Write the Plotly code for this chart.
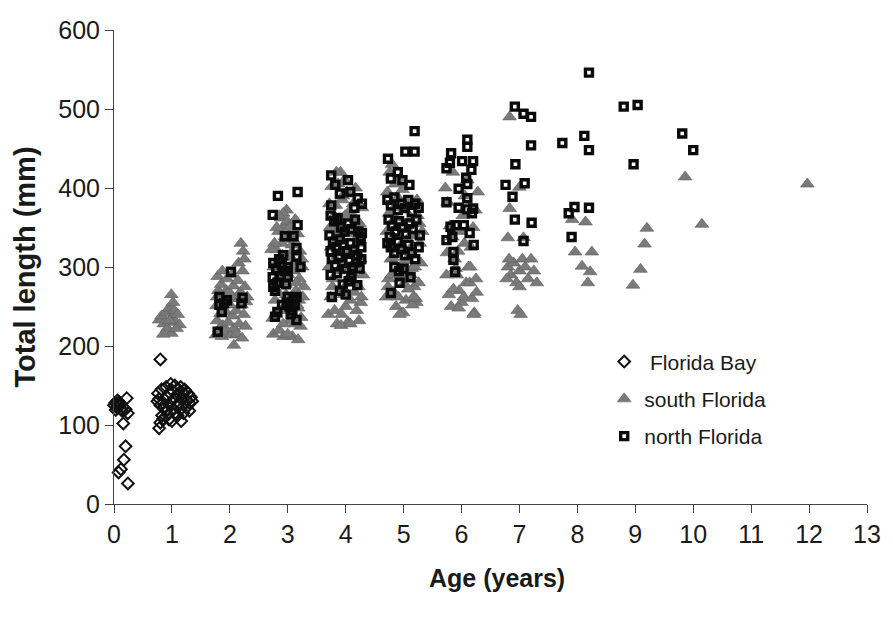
import plotly.graph_objects as go

# ---------------- data (age in years, total length in mm) ----------------
ages = list(range(0, 14))

# Florida Bay (diamonds)
bay_a0_x = [0.02, 0.05, 0.08, 0.03, 0.10, 0.06, 0.12, 0.00, 0.09, 0.22,
            0.07, 0.24, 0.20, 0.16, 0.20, 0.17, 0.12, 0.08, 0.24, 0.14]
bay_a0_y = [128, 122, 126, 119, 124, 131, 120, 125, 129, 134,
            127, 115, 120, 102, 73, 56, 44, 40, 26, 118]
bay_a1_x = [0.80, 0.78, 0.80, 0.85, 0.83, 0.90, 0.95, 1.00, 1.16, 1.10,
            1.20, 1.25, 1.30, 1.33, 1.28, 1.22, 1.15, 1.05, 0.98, 0.90,
            0.82, 0.76, 0.78, 0.85, 0.92, 0.97, 1.02, 1.08, 1.12, 1.18,
            1.25, 0.88, 0.95, 1.03, 1.08, 1.15, 0.80, 1.00, 1.10, 1.20,
            0.93, 1.05, 1.30, 1.35, 0.75]
bay_a1_y = [183, 96, 103, 108, 112, 118, 107, 105, 105, 112,
            115, 122, 128, 135, 140, 145, 148, 150, 152, 148,
            145, 140, 133, 128, 135, 140, 132, 138, 128, 135,
            132, 122, 126, 120, 124, 120, 125, 144, 145, 140,
            113, 115, 118, 130, 130]

# south Florida (triangles)
sf_a1_x = [0.78, 0.82, 0.86, 0.90, 0.95, 0.99, 1.00, 1.04, 1.06, 1.10,
           1.13, 0.99, 0.92, 0.85, 1.08, 0.96, 1.02]
sf_a1_y = [233, 238, 228, 242, 248, 265, 236, 245, 230, 240,
           227, 216, 222, 215, 222, 232, 255]
sf_a2_x = [1.76, 1.78, 1.77, 1.80, 1.79, 1.82, 1.78, 1.84, 1.86, 1.85,
           1.88, 1.87, 1.90, 1.92, 1.93, 1.95, 1.94, 1.97, 2.00, 2.02,
           1.99, 2.03, 2.05, 2.07, 2.06, 2.10, 2.12, 2.11, 2.14, 2.16,
           2.15, 2.18, 2.20, 2.19, 2.22, 2.24, 2.23, 2.26, 2.28, 2.27,
           2.30, 2.25, 2.21, 2.17, 2.07, 1.83]
sf_a2_y = [214, 232, 251, 270, 288, 222, 262, 241, 212, 278,
           226, 295, 259, 218, 243, 285, 270, 230, 252, 214,
           268, 290, 238, 222, 276, 260, 215, 245, 283, 228,
           305, 268, 252, 330, 295, 240, 320, 275, 256, 225,
           262, 310, 210, 260, 201, 266]
sf_a3_x = [2.74, 2.78, 2.82, 2.86, 2.90, 2.94, 2.98, 3.02, 3.06, 3.10,
           3.14, 3.18, 3.22, 3.26, 2.76, 2.80, 2.84, 2.88, 2.92, 2.96,
           3.00, 3.04, 3.08, 3.12, 3.16, 3.20, 3.24, 2.75, 2.79, 2.83,
           2.87, 2.91, 2.95, 2.99, 3.03, 3.07, 3.11, 3.15, 3.19, 3.23,
           2.77, 2.81, 2.85, 2.89, 2.93, 2.97, 3.01, 3.05, 3.09, 3.13,
           3.17, 3.21, 3.25, 2.92, 3.00, 3.18, 2.85, 3.28, 2.72, 3.10]
sf_a3_y = [235, 258, 282, 305, 330, 352, 372, 340, 318, 295,
           270, 248, 225, 262, 300, 322, 345, 362, 368, 278,
           255, 232, 212, 228, 252, 285, 310, 215, 240, 268,
           290, 315, 338, 358, 350, 328, 306, 280, 258, 236,
           330, 350, 220, 245, 212, 265, 290, 312, 335, 360,
           342, 320, 300, 228, 215, 208, 365, 275, 322, 250]
sf_a4_x = [3.70, 3.74, 3.78, 3.82, 3.86, 3.90, 3.94, 3.98, 4.02, 4.06,
           4.10, 4.14, 4.18, 4.22, 4.26, 4.30, 3.72, 3.76, 3.80, 3.84,
           3.88, 3.92, 3.96, 4.00, 4.04, 4.08, 4.12, 4.16, 4.20, 4.24,
           4.28, 3.71, 3.75, 3.79, 3.83, 3.87, 3.91, 3.95, 3.99, 4.03,
           4.07, 4.11, 4.15, 4.19, 4.23, 4.27, 3.73, 3.85, 3.97, 4.09,
           4.21, 3.81, 3.93, 4.05, 4.17, 3.77, 3.89, 4.01, 4.13, 4.25,
           3.92, 4.08, 3.99, 3.84, 4.18]
sf_a4_y = [240, 262, 285, 310, 335, 360, 385, 410, 395, 370,
           345, 320, 298, 275, 255, 290, 380, 402, 365, 340,
           318, 295, 272, 250, 230, 258, 280, 305, 330, 355,
           375, 300, 325, 352, 378, 405, 420, 390, 365, 342,
           318, 292, 268, 245, 232, 262, 350, 228, 265, 300,
           338, 245, 240, 285, 400, 275, 298, 322, 380, 310,
           226, 228, 346, 420, 360]
sf_a5_x = [4.70, 4.74, 4.78, 4.82, 4.86, 4.90, 4.94, 4.98, 5.02, 5.06,
           5.10, 5.14, 5.18, 5.22, 5.26, 5.30, 4.72, 4.76, 4.80, 4.84,
           4.88, 4.92, 4.96, 5.00, 5.04, 5.08, 5.12, 5.16, 5.20, 5.24,
           5.28, 4.71, 4.75, 4.79, 4.83, 4.87, 4.91, 4.95, 4.99, 5.03,
           5.07, 5.11, 5.15, 5.19, 5.23, 5.27, 4.73, 4.85, 4.97, 5.09,
           5.21, 4.81, 4.93, 5.05, 5.17, 5.32]
sf_a5_y = [262, 285, 310, 338, 362, 388, 412, 398, 372, 348,
           322, 298, 275, 255, 280, 305, 395, 420, 430, 375,
           350, 325, 300, 278, 258, 272, 290, 315, 340, 365,
           330, 345, 368, 290, 268, 250, 262, 285, 242, 308,
           335, 360, 252, 300, 385, 355, 275, 405, 326, 382,
           260, 312, 240, 288, 262, 345]
sf_a6_x = [5.72, 5.76, 5.80, 5.84, 5.88, 5.92, 5.96, 6.00, 6.04, 6.08,
           6.12, 6.16, 6.20, 6.24, 6.28, 5.74, 5.78, 5.82, 5.86, 5.90,
           5.94, 5.98, 6.02, 6.06, 6.10, 6.14, 6.18, 6.22, 6.26, 5.75,
           5.85, 5.95, 6.05, 6.15, 6.25, 6.21]
sf_a6_y = [400, 382, 352, 338, 310, 290, 270, 255, 262, 280,
           300, 325, 350, 372, 395, 290, 265, 250, 272, 298,
           320, 345, 365, 390, 410, 280, 260, 242, 268, 318,
           420, 248, 330, 300, 285, 240]
sf_old_x = [6.83, 7.00, 6.83, 6.80, 7.07, 6.80, 6.85, 6.90, 6.95, 7.00,
            7.05, 7.10, 7.15, 7.20, 7.25, 7.30, 6.78, 7.00, 6.97, 7.02,
            6.82, 7.91, 8.14, 7.96, 8.25, 8.08, 8.22, 8.18, 9.20, 9.16,
            9.09, 8.96, 9.86, 10.15, 11.97]
sf_old_y = [490, 401, 374, 337, 337, 300, 290, 305, 280, 295,
            310, 300, 285, 310, 295, 280, 285, 275, 245, 240,
            310, 360, 357, 319, 319, 301, 294, 280, 349, 329,
            297, 277, 414, 354, 405]

# north Florida (squares)
nf_a2_x = [2.02, 1.82, 1.90, 1.86, 1.82, 2.22, 2.20, 1.79, 1.95]
nf_a2_y = [294, 262, 254, 243, 252, 261, 254, 218, 258]
nf_a3_x = [2.83, 3.17, 2.74, 3.17, 2.95, 3.10, 3.15, 3.15, 2.75, 2.80,
           2.85, 2.90, 2.95, 3.00, 2.88, 2.82, 2.78, 2.92, 3.00, 2.97,
           2.74, 2.75, 2.98, 3.03, 3.08, 3.12, 3.05, 3.10, 3.15, 3.15,
           2.82, 2.78, 2.90, 3.00, 3.22]
nf_a3_y = [390, 395, 366, 353, 339, 339, 324, 313, 305, 298,
           310, 302, 295, 300, 288, 280, 270, 315, 288, 278,
           287, 275, 255, 250, 245, 252, 240, 258, 262, 233,
           243, 237, 252, 262, 300]
nf_a4_x = [3.75, 4.04, 3.82, 3.90, 3.75, 4.21, 4.08, 4.15, 3.74, 3.80,
           3.86, 3.92, 3.98, 4.04, 4.10, 4.16, 4.22, 4.26, 3.72, 3.78,
           3.84, 3.90, 3.96, 4.02, 4.08, 4.14, 4.20, 4.27, 3.76, 3.82,
           3.88, 3.94, 4.00, 4.06, 4.12, 4.18, 4.24, 3.74, 3.74, 3.85,
           4.05, 4.20, 3.76, 3.95, 4.10, 3.90, 4.00, 4.28, 4.28, 4.27]
nf_a4_y = [416, 410, 404, 393, 378, 387, 395, 375, 365, 358,
           362, 350, 345, 355, 348, 360, 345, 338, 340, 332,
           325, 335, 328, 320, 330, 322, 315, 325, 310, 302,
           312, 305, 298, 308, 300, 306, 298, 320, 290, 292,
           282, 277, 262, 278, 287, 270, 265, 380, 343, 310]
nf_a5_x = [5.19, 5.03, 5.19, 4.73, 4.90, 4.98, 5.10, 4.78, 4.72, 4.78,
           4.84, 4.90, 4.96, 5.02, 5.08, 5.14, 5.20, 5.26, 4.74, 4.80,
           4.86, 4.92, 4.98, 5.04, 5.10, 5.16, 5.22, 5.28, 4.72, 4.78,
           4.84, 4.90, 4.96, 5.02, 5.08, 5.14, 5.20, 5.26, 4.76, 4.84,
           4.92, 5.00, 5.12, 4.93, 4.78]
nf_a5_y = [472, 446, 446, 437, 420, 410, 404, 412, 385, 378,
           388, 372, 380, 375, 385, 370, 380, 375, 360, 352,
           345, 358, 350, 342, 355, 348, 360, 340, 330, 325,
           318, 332, 322, 315, 328, 318, 310, 325, 338, 300,
           295, 298, 287, 280, 267]
nf_a6_x = [6.10, 6.10, 5.82, 5.80, 5.74, 6.01, 6.20, 6.17, 6.08, 5.95,
           6.10, 6.10, 5.74, 6.20, 6.18, 6.10, 5.90, 6.04, 5.81, 6.14,
           5.74, 5.84, 6.21, 5.86, 5.86, 5.89, 5.95]
nf_a6_y = [461, 452, 444, 432, 425, 434, 434, 423, 413, 399,
           405, 387, 382, 374, 368, 373, 353, 353, 351, 343,
           334, 338, 328, 319, 309, 294, 375]
nf_old_x = [6.92, 7.07, 7.20, 7.20, 6.93, 7.09, 6.76, 6.88, 6.92, 7.21,
            7.07, 7.74, 8.12, 8.20, 8.20, 7.95, 7.85, 8.20, 7.90, 8.80,
            9.04, 8.97, 9.81, 10.00]
nf_old_y = [503, 494, 490, 454, 430, 406, 404, 389, 360, 356,
            333, 457, 466, 448, 546, 376, 368, 375, 338, 503,
            505, 430, 469, 448]

# ---------------- assemble series ----------------
bay_x = bay_a0_x + bay_a1_x
bay_y = bay_a0_y + bay_a1_y
sf_x = sf_a1_x + sf_a2_x + sf_a3_x + sf_a4_x + sf_a5_x + sf_a6_x + sf_old_x
sf_y = sf_a1_y + sf_a2_y + sf_a3_y + sf_a4_y + sf_a5_y + sf_a6_y + sf_old_y
nf_x = nf_a2_x + nf_a3_x + nf_a4_x + nf_a5_x + nf_a6_x + nf_old_x
nf_y = nf_a2_y + nf_a3_y + nf_a4_y + nf_a5_y + nf_a6_y + nf_old_y

FONT = "Liberation Sans, Arial, Helvetica, sans-serif"
INK = "#1a1a1a"

fig = go.Figure()
fig.add_trace(go.Scatter(
    x=bay_x, y=bay_y, mode="markers", name="\u00a0Florida Bay",
    legendgroup="a", cliponaxis=False,
    marker=dict(symbol="diamond-open", size=9, color="#111111",
                line=dict(width=2.0, color="#111111"))))
fig.add_trace(go.Scatter(
    x=sf_x, y=sf_y, mode="markers", name="south Florida",
    legendgroup="b", cliponaxis=False,
    marker=dict(symbol="triangle-up", size=12, color="#7a7a7a",
                line=dict(width=0.6, color="#5e5e5e"))))
fig.add_trace(go.Scatter(
    x=nf_x, y=nf_y, mode="markers", name="north Florida",
    legendgroup="c", cliponaxis=False,
    marker=dict(symbol="square-open", size=7, color="#0a0a0a",
                line=dict(width=3.4, color="#0a0a0a"))))

fig.update_layout(
    width=893, height=622,
    margin=dict(l=114, r=20, t=30, b=118),
    paper_bgcolor="white", plot_bgcolor="white",
    font=dict(family=FONT, color=INK),
    showlegend=True,
    legend=dict(x=0.651, y=0.343, xanchor="left", yanchor="top",
                bgcolor="rgba(0,0,0,0)", font=dict(size=21, family=FONT, color=INK),
                traceorder="grouped", tracegroupgap=7, itemwidth=30),
    xaxis=dict(range=[0, 13], tickvals=ages, ticktext=[str(a) for a in ages],
               ticks="outside", ticklen=8, tickwidth=1, tickcolor="#444",
               showline=True, linecolor="#444", linewidth=1,
               showgrid=False, zeroline=False,
               tickfont=dict(size=25, family=FONT, color=INK)),
    yaxis=dict(range=[0, 600], dtick=100, tick0=0,
               ticks="outside", ticklen=8, tickwidth=1, tickcolor="#444",
               showline=True, linecolor="#444", linewidth=1,
               showgrid=False, zeroline=False,
               tickfont=dict(size=25, family=FONT, color=INK),
               title=dict(text="<b>Total length (mm)</b>", standoff=14,
                          font=dict(size=29, family=FONT, color=INK))),
    annotations=[dict(text="<b>Age (years)</b>", xref="paper", yref="paper",
                      x=0.5086, y=-0.156, xanchor="center", yanchor="middle",
                      showarrow=False, font=dict(size=25, family=FONT, color=INK))],
)

fig.write_html("out.html")
